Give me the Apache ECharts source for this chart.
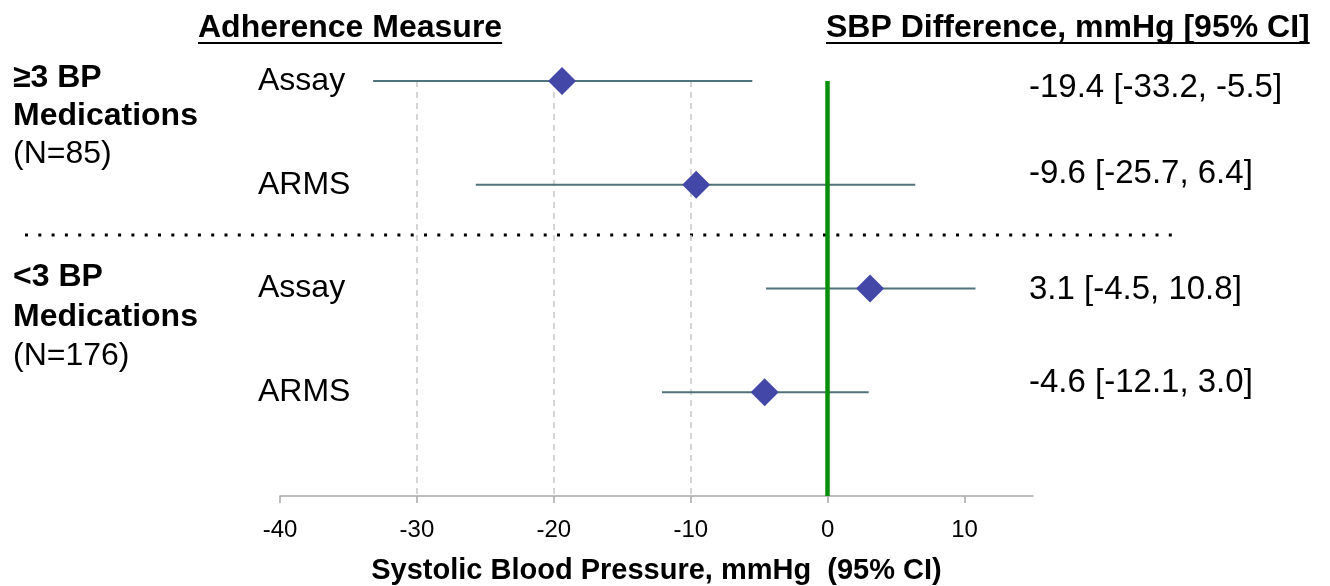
<!DOCTYPE html>
<html><head><meta charset="utf-8">
<script src="https://cdn.jsdelivr.net/npm/echarts@6/dist/echarts.min.js"></script>
<style>html,body{margin:0;padding:0;background:#fff}#c{width:1330px;height:586px}</style>
</head><body><div id="c"></div>
<script>
// ---- data ----
const groupTitles = ['≥3 BP', '<3 BP'];
const groupSubtitles = ['Medications', 'Medications'];
const groupN = ['(N=85)', '(N=176)'];
const measures = ['Assay', 'ARMS', 'Assay', 'ARMS'];
const estimates = [-19.4, -9.6, 3.1, -4.6];
const lowerCI = [-33.2, -25.7, -4.5, -12.1];
const upperCI = [-5.5, 6.4, 10.8, 3.0];
const tickValues = [-40, -30, -20, -10, 0, 10];
const tickLabels = ['-40', '-30', '-20', '-10', '0', '10'];
const axisTitle = 'Systolic Blood Pressure, mmHg  (95% CI)';
const headerLeft = 'Adherence Measure';
const headerRight = 'SBP Difference, mmHg [95% CI]';

// ---- build ----
const FONT = 'Liberation Sans, Arial, Helvetica, sans-serif';
const fmt = v => v.toFixed(1);
const valueTexts = estimates.map((e, i) => fmt(e) + ' [' + fmt(lowerCI[i]) + ', ' + fmt(upperCI[i]) + ']');
const ciData = estimates.map((e, i) => [lowerCI[i], upperCI[i], i]);
const pointData = estimates.map((e, i) => [e, i]);

function textWidth(t, font) {
  const c = document.createElement('canvas').getContext('2d');
  c.font = font; return c.measureText(t).width;
}

const chart = echarts.init(document.getElementById('c'), null, {renderer: 'canvas'});

const hFont = 'bold 32px ' + FONT;
const wL = textWidth(headerLeft, hFont);
const wR = textWidth(headerRight, hFont);

const graphics = [
  {type: 'text', left: 198, top: 12, style: {text: headerLeft, font: hFont, fill: '#000'}},
  {type: 'rect', shape: {x: 198, y: 42, width: wL, height: 2}, style: {fill: '#000'}},
  {type: 'text', left: 826, top: 12, style: {text: headerRight, font: hFont, fill: '#000'}},
  {type: 'rect', shape: {x: 826, y: 42, width: wR, height: 2}, style: {fill: '#000'}},
  {type: 'line', shape: {x1: 25, y1: 235, x2: 1182, y2: 235},
   style: {stroke: '#000', lineWidth: 3, lineDash: [3, 10.3]}}
];
const groupY = [[78, 116, 154], [277, 317, 356]];
groupTitles.forEach((g, k) => {
  graphics.push({type: 'text', x: 13, y: groupY[k][0], style: {text: g, font: 'bold 32px ' + FONT, fill: '#000', verticalAlign: 'middle'}});
  graphics.push({type: 'text', x: 13, y: groupY[k][1], style: {text: groupSubtitles[k], font: 'bold 32px ' + FONT, fill: '#000', verticalAlign: 'middle'}});
  graphics.push({type: 'text', x: 13, y: groupY[k][2], style: {text: groupN[k], font: '32px ' + FONT, fill: '#000', verticalAlign: 'middle'}});
});
const valY = [88, 174, 290, 383];
valueTexts.forEach((t, i) => {
  graphics.push({type: 'text', x: 1029, y: valY[i], style: {text: t, font: '33px ' + FONT, fill: '#000', verticalAlign: 'middle'}});
});

chart.setOption({
  animation: false,
  backgroundColor: '#fff',
  grid: {left: 280, right: 297, top: 81, bottom: 90, containLabel: false, outerBoundsMode: 'none'},
  xAxis: {
    type: 'value', min: -40, max: 15, interval: 10,
    axisLine: {show: true, onZero: false, lineStyle: {color: '#a8a8a8', width: 1.5}},
    axisTick: {show: true, length: 7, lineStyle: {color: '#a8a8a8', width: 1.5}, customValues: tickValues},
    axisLabel: {
      customValues: tickValues, margin: 22,
      formatter: v => { const i = tickValues.indexOf(v); return i >= 0 ? tickLabels[i] : ''; },
      color: '#000', fontSize: 24, fontFamily: FONT
    },
    splitLine: {show: true, showMinLine: false, showMaxLine: false,
      lineStyle: {color: '#c8c8c8', width: 1.5, type: [6, 5]}},
    name: axisTitle, nameLocation: 'middle', nameGap: 60,
    nameTextStyle: {color: '#000', fontSize: 29, fontWeight: 'bold', fontFamily: FONT}
  },
  yAxis: {
    type: 'value', min: 0, max: 4, interval: 1, inverse: true,
    axisLine: {show: false}, axisTick: {show: false}, splitLine: {show: false},
    axisLabel: {align: 'left', margin: 22, color: '#000', fontSize: 32, fontFamily: FONT,
      formatter: v => (Number.isInteger(v) && v < measures.length) ? measures[v] : ''}
  },
  graphic: graphics,
  series: [
    {
      type: 'custom', clip: false, z: 2,
      data: ciData,
      dimensions: ['lo', 'hi', 'row'],
      encode: {x: [0, 1], y: 2},
      renderItem: (params, api) => {
        const p1 = api.coord([api.value(0), api.value(2)]);
        const p2 = api.coord([api.value(1), api.value(2)]);
        return {type: 'line', shape: {x1: p1[0], y1: p1[1], x2: p2[0], y2: p2[1]},
          style: {stroke: '#50727a', lineWidth: 2}};
      },
      markLine: {
        silent: true, symbol: 'none', label: {show: false},
        lineStyle: {color: '#0a8f0a', width: 4.5, type: 'solid'},
        data: [{xAxis: 0}]
      }
    },
    {
      type: 'scatter', clip: false, z: 4,
      data: pointData, symbol: 'diamond', symbolSize: 28,
      itemStyle: {color: '#4348a8', opacity: 1}
    }
  ]
});
</script></body></html>
